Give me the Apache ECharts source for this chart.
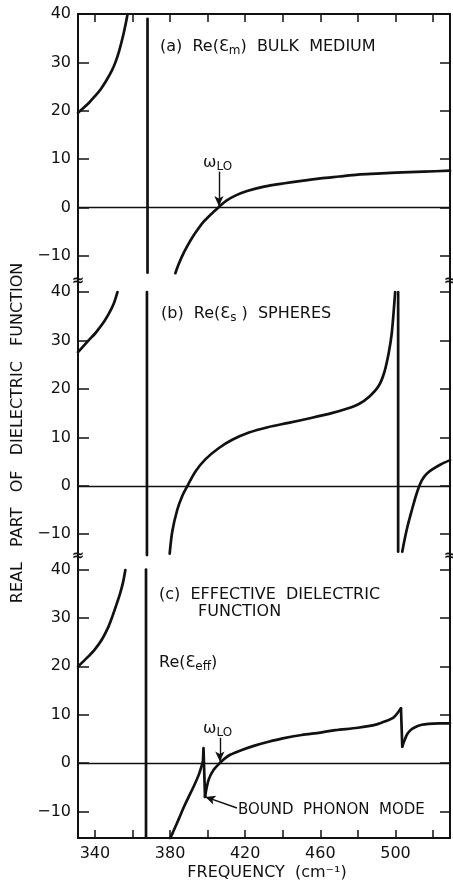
<!DOCTYPE html>
<html><head><meta charset="utf-8">
<script src="https://cdn.jsdelivr.net/npm/echarts@6/dist/echarts.min.js"></script>
<style>html,body{margin:0;padding:0;background:#fff}#c{width:453px;height:885px}</style>
</head><body><div id="c"></div>
<script>
// axis ticks / labels
const xTickValues = [340,360,380,400,420,440,460,480,500,520];
const xLabelValues = [340,380,420,460,500];
const yTickValues = [-10,0,10,20,30,40];

// (a) Re(eps_m) bulk medium
const aLeft = [[331,19.6],[334,20.6],[337,21.7],[340,23.0],[343,24.4],[346,26.2],[349,28.3],[351,30.1],[353,32.5],[355,35.5],[356.5,38.2],[357.4,40]];
const aPole = [[368,39],[368,-13.5]];
const aRight = [[382.8,-13.6],[384.5,-11.8],[386.5,-10.0],[389,-8.1],[392,-6.1],[395,-4.4],[398,-2.9],[401,-1.7],[403.5,-0.8],[406,0.1],[410,1.4],[415,2.5],[421,3.4],[430,4.3],[441,5.0],[450,5.5],[460,6.0],[470,6.4],[480,6.8],[490,7.0],[500,7.2],[515,7.4],[529,7.6]];
const aOmegaLO = [406,0.3];

// (b) Re(eps_s) spheres
const bLeft = [[331,27.6],[334,28.9],[337,30.2],[340,31.4],[342.2,32.5],[345,34.0],[347.5,35.6],[350,37.6],[352,40]];
const bPole1 = [[367.7,40],[367.7,-14.3]];
const bMid = [[379.8,-14.0],[381.2,-9.4],[383.8,-5.0],[386.5,-2.1],[389.7,0.3],[393.6,3.0],[398.9,5.5],[406,7.8],[413.1,9.5],[422,11.0],[432,12.1],[443,13.0],[455,14.0],[466,15.0],[474,15.9],[480.5,16.9],[486,18.4],[491,20.6],[494,23.4],[496.4,27.5],[498,31.5],[499.8,40]];
const bPole2 = [[501.4,40],[501.4,-13.6]];
const bRight = [[503.6,-13.6],[505,-10.8],[506.5,-8.2],[508,-6.0],[509.5,-3.9],[511,-1.9],[512.5,-0.2],[514,1.1],[515.5,2.0],[517.5,2.8],[520,3.5],[524,4.4],[529,5.3]];

// (c) effective dielectric function
const cLeft = [[331,19.9],[333,20.7],[336.7,22.1],[340,23.5],[343.8,25.6],[347,28.0],[349.1,30.1],[351.5,32.8],[353.5,35.2],[355,37.4],[356.2,39.9]];
const cPole = [[367.2,40],[367.2,-15.5]];
const cRise = [[380,-15.6],[382,-13.9],[384.5,-11.7],[387,-9.4],[389.9,-7.0],[392.5,-4.9],[395.2,-2.5],[397.5,0.3]];
const cSpike1 = [[397.5,0.3],[397.8,3.1],[398.6,-7.0]];
const cMid = [[398.6,-7.0],[400.5,-3.5],[403.2,-1.4],[406.5,0.0],[409,0.9],[412,1.7],[418.2,2.7],[425,3.6],[432.4,4.4],[440,5.1],[450,5.8],[460,6.3],[468,6.8],[480,7.3],[490,8.0],[495,8.7],[498.9,9.4],[501.6,10.6],[502.9,11.3]];
const cSpike2 = [[502.9,11.3],[503.6,3.4]];
const cTail = [[503.6,3.4],[506,5.8],[508,6.8],[510.4,7.4],[514,7.9],[517.5,8.1],[523,8.2],[529,8.2]];
const cOmegaLO = [406.5,0.3];
const boundMode = [398.8,-7.0];

const FONT = 'DejaVu Sans';
const INK = '#111';
const chart = echarts.init(document.getElementById('c'));

const grids = [
  {left:78, top:14, width:372, height:266},
  {left:78, top:280, width:372, height:276},
  {left:78, top:556, width:372, height:282}
];
const yRanges = [[-15,40],[-14.5,42.5],[-15.5,42.8]];

const minus = v => String(v).replace('-', '\u2212');

const xAxes = grids.map((g,i)=>({
  gridIndex:i, type:'value', min:331, max:529,
  position: i===0 ? 'top' : 'bottom',
  show: i!==1,
  axisLine:{show:true, onZero:false, lineStyle:{color:INK, width:2}},
  axisTick:{show:true, inside:true, length:8, customValues:xTickValues, lineStyle:{color:INK, width:1.5}},
  axisLabel:{show:i===2, customValues:xLabelValues, margin:8, fontFamily:FONT, fontSize:16, color:INK},
  splitLine:{show:false}
}));

const yAxes = [];
grids.forEach((g,i)=>{
  yAxes.push({
    gridIndex:i, type:'value', min:yRanges[i][0], max:yRanges[i][1], position:'left',
    axisLine:{show:true, onZero:false, lineStyle:{color:INK, width:2}},
    axisTick:{show:true, inside:true, length:11, customValues:yTickValues, lineStyle:{color:INK, width:1.5}},
    axisLabel:{show:true, customValues:yTickValues, margin:7, fontFamily:FONT, fontSize:16, color:INK, formatter:minus},
    splitLine:{show:false}
  });
  yAxes.push({
    gridIndex:i, type:'value', min:yRanges[i][0], max:yRanges[i][1], position:'right',
    axisLine:{show:true, onZero:false, lineStyle:{color:INK, width:2}},
    axisTick:{show:true, inside:true, length:10, customValues:yTickValues, lineStyle:{color:INK, width:1.5}},
    axisLabel:{show:false},
    splitLine:{show:false}
  });
});

function curve(data, gi, smooth, extra){
  return Object.assign({
    type:'line', xAxisIndex:gi, yAxisIndex:gi*2, data:data,
    showSymbol:false, symbol:'none', silent:true,
    smooth: smooth ? 0.3 : false,
    lineStyle:{color:INK, width:2.7, cap:'round', join:'round'}
  }, extra||{});
}
function zeroAndArrows(arrows){
  const d = [{yAxis:0, lineStyle:{width:1.4}}];
  arrows.forEach(a=>{
    d.push([{coord:a[0], symbol:'none'},{coord:a[1], symbol:'arrow', symbolSize:[7,10]}]);
  });
  return {silent:true, animation:false, symbol:['none','none'], label:{show:false},
    lineStyle:{color:INK, width:1.4, type:'solid'}, emphasis:{disabled:true}, data:d};
}

const series = [
  curve(aLeft,0,true,{markLine: zeroAndArrows([[[aOmegaLO[0],7.4],aOmegaLO]])}),
  curve(aPole,0,false),
  curve(aRight,0,true),
  curve(bLeft,1,true,{markLine: zeroAndArrows([])}),
  curve(bPole1,1,false),
  curve(bMid,1,true),
  curve(bPole2,1,false),
  curve(bRight,1,true),
  curve(cLeft,2,true,{markLine: zeroAndArrows([[[cOmegaLO[0],5.2],cOmegaLO],[[415.6,-9.3],boundMode]])}),
  curve(cPole,2,false),
  curve(cRise,2,true),
  curve(cSpike1,2,false),
  curve(cMid,2,true),
  curve(cSpike2,2,false),
  curve(cTail,2,true)
];

const txt = (x,y,text,opt)=>Object.assign({
  type:'text', x:x, y:y, silent:true,
  style:Object.assign({text:text, fontFamily:FONT, fontSize:16, fill:INK, align:'left', verticalAlign:'middle', lineHeight:20,
    rich:{
      n:{fontFamily:FONT, fontSize:16, fill:INK, lineHeight:20},
      s:{fontFamily:FONT, fontSize:12, fill:INK, lineHeight:12, verticalAlign:'bottom'}
    }}, opt||{})
});

const breakStyle = {text:'≈', fontFamily:FONT, fontSize:15, fontWeight:'bold', fill:INK, align:'center', verticalAlign:'middle', backgroundColor:'#fff'};

const graphic = [
  txt(160,47,'{n|(a)  Re(Ɛ}{s|m}{n|)  BULK  MEDIUM}'),
  txt(203,163,'{n|ω}{s|LO}'),
  txt(161,314,'{n|(b)  Re(Ɛ}{s|s}{n| )  SPHERES}'),
  txt(159,595,'(c)  EFFECTIVE  DIELECTRIC'),
  txt(198,612,'FUNCTION'),
  txt(159,663,'{n|Re(Ɛ}{s|eff}{n|)}'),
  txt(203,729,'{n|ω}{s|LO}'),
  txt(238,810,'BOUND  PHONON  MODE',{fontSize:15}),
  {type:'text', x:18, y:433, rotation:Math.PI/2, silent:true,
   style:{text:'REAL   PART   OF   DIELECTRIC   FUNCTION', fontFamily:FONT, fontSize:16, fill:INK, align:'center', verticalAlign:'middle'}},
  {type:'text', x:267, y:873, silent:true,
   style:{text:'FREQUENCY  (cm⁻¹)', fontFamily:FONT, fontSize:16, fill:INK, align:'center', verticalAlign:'middle'}},
  {type:'text', x:78, y:281, silent:true, style:breakStyle},
  {type:'text', x:78, y:556, silent:true, style:breakStyle},
  {type:'text', x:450, y:281, silent:true, style:breakStyle},
  {type:'text', x:450, y:556, silent:true, style:breakStyle}
];

chart.setOption({
  animation:false,
  backgroundColor:'#fff',
  grid:grids,
  xAxis:xAxes,
  yAxis:yAxes,
  series:series,
  graphic:graphic
});
</script>
</body></html>
